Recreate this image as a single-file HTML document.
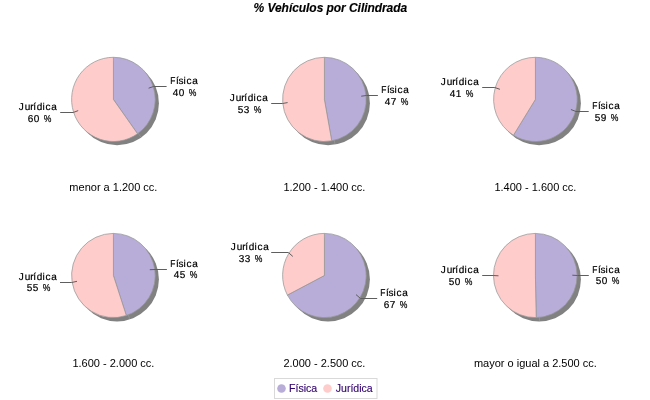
<!DOCTYPE html>
<html><head><meta charset="utf-8"><title>% Vehiculos por Cilindrada</title>
<style>
html,body{margin:0;padding:0;background:#fff;}
body{width:650px;height:400px;overflow:hidden;font-family:"Liberation Sans",sans-serif;}
svg{display:block;will-change:transform;}
text{font-family:"Liberation Sans",sans-serif;fill:#000;}
.t{font-size:12px;font-weight:bold;font-style:italic;stroke:#000;stroke-width:0.15px;}
.l{font-size:10px;text-rendering:geometricPrecision;stroke:#000;stroke-width:0.2px;}
.c{font-size:11px;}
.g{font-size:11px;fill:#34056f;stroke:#34056f;stroke-width:0.15px;}
.k{fill:none;stroke:#5e5e5e;stroke-width:1;}
</style></head><body>
<svg width="650" height="400" viewBox="0 0 650 400">
<rect width="650" height="400" fill="#fff"/>

<text class="t" x="253.6" y="11.8" textLength="153.6" lengthAdjust="spacing">% Vehículos por Cilindrada</text>
<ellipse cx="117.1" cy="103.2" rx="41.8" ry="42.1" fill="#818181"/>
<path d="M113.4,99.4 L113.4,57.3 A41.8,42.1 0 0 1 137.54,133.77 Z" fill="#b7add8" stroke="#979797" stroke-width="0.75"/>
<path d="M113.4,99.4 L137.54,133.77 A41.8,42.1 0 1 1 113.4,57.3 Z" fill="#ffcccc" stroke="#979797" stroke-width="0.75"/>
<line x1="137.9" y1="132.8" x2="140.9" y2="137.1" stroke="#9c9c9c" stroke-width="0.6"/>
<polyline class="k" points="148.6,88.2 153.6,86.5 166.6,86.5"/>
<text class="l" transform="translate(170.31,84) scale(0.839,1)">F</text>
<text class="l" x="176.11 178.54 183.39 186.42 192.34" y="84">ísica</text>
<text class="l" x="172.75 178.72" y="96">40</text>
<text class="l" transform="translate(188.69,96) scale(0.856,1)">%</text>
<polyline class="k" points="78.2,110.6 73.2,112.5 60.2,112.5"/>
<text class="l" x="18.79 24.73 30.29 33.31 36.83 42.39 45.42 51.34" y="110">Jurídica</text>
<text class="l" x="27.69 33.72" y="122">60</text>
<text class="l" transform="translate(43.69,122) scale(0.856,1)">%</text>
<text class="c" text-anchor="middle" x="113.4" y="191">menor a 1.200 cc.</text>
<ellipse cx="328.1" cy="103.2" rx="41.8" ry="42.1" fill="#818181"/>
<path d="M324.4,99.4 L324.4,57.3 A41.8,42.1 0 0 1 331.72,140.85 Z" fill="#b7add8" stroke="#979797" stroke-width="0.75"/>
<path d="M324.4,99.4 L331.72,140.85 A41.8,42.1 0 1 1 324.4,57.3 Z" fill="#ffcccc" stroke="#979797" stroke-width="0.75"/>
<line x1="334.2" y1="139.7" x2="335.0" y2="144.2" stroke="#9c9c9c" stroke-width="0.6"/>
<polyline class="k" points="361.2,96.2 366.4,95.5 377.9,95.5"/>
<text class="l" transform="translate(381.31,93) scale(0.839,1)">F</text>
<text class="l" x="387.11 389.54 394.39 397.42 403.34" y="93">ísica</text>
<text class="l" x="384.75 390.71" y="105">47</text>
<text class="l" transform="translate(400.69,105) scale(0.856,1)">%</text>
<polyline class="k" points="287.6,102.6 282.4,103.5 271.2,103.5"/>
<text class="l" x="229.79 235.73 241.29 244.31 247.83 253.39 256.42 262.34" y="101">Jurídica</text>
<text class="l" x="237.73 243.75" y="113">53</text>
<text class="l" transform="translate(253.69,113) scale(0.856,1)">%</text>
<text class="c" text-anchor="middle" x="324.4" y="191">1.200 - 1.400 cc.</text>
<ellipse cx="539.1" cy="103.2" rx="41.8" ry="42.1" fill="#818181"/>
<path d="M535.4,99.4 L535.4,57.3 A41.8,42.1 0 1 1 513.45,135.23 Z" fill="#b7add8" stroke="#979797" stroke-width="0.75"/>
<path d="M535.4,99.4 L513.45,135.23 A41.8,42.1 0 0 1 535.4,57.3 Z" fill="#ffcccc" stroke="#979797" stroke-width="0.75"/>
<line x1="517.5" y1="137.2" x2="516.7" y2="138.6" stroke="#9c9c9c" stroke-width="0.6"/>
<polyline class="k" points="570.9,109.5 576.0,111.5 588.7,111.5"/>
<text class="l" transform="translate(592.31,109) scale(0.839,1)">F</text>
<text class="l" x="598.11 600.54 605.39 608.42 614.34" y="109">ísica</text>
<text class="l" x="594.73 600.72" y="121">59</text>
<text class="l" transform="translate(610.69,121) scale(0.856,1)">%</text>
<polyline class="k" points="499.9,89.3 494.8,87.5 482.2,87.5"/>
<text class="l" x="440.79 446.73 452.29 455.31 458.83 464.39 467.42 473.34" y="85">Jurídica</text>
<text class="l" x="449.75 455.83" y="97">41</text>
<text class="l" transform="translate(465.69,97) scale(0.856,1)">%</text>
<text class="c" text-anchor="middle" x="535.4" y="191">1.400 - 1.600 cc.</text>
<ellipse cx="117.1" cy="279.3" rx="41.8" ry="42.1" fill="#818181"/>
<path d="M113.4,275.5 L113.4,233.4 A41.8,42.1 0 0 1 126.32,315.54 Z" fill="#b7add8" stroke="#979797" stroke-width="0.75"/>
<path d="M113.4,275.5 L126.32,315.54 A41.8,42.1 0 1 1 113.4,233.4 Z" fill="#ffcccc" stroke="#979797" stroke-width="0.75"/>
<line x1="128.2" y1="314.3" x2="129.6" y2="318.8" stroke="#9c9c9c" stroke-width="0.6"/>
<polyline class="k" points="149.8,269.7 155.1,269.5 166.9,269.5"/>
<text class="l" transform="translate(170.31,267) scale(0.839,1)">F</text>
<text class="l" x="176.11 178.54 183.39 186.42 192.34" y="267">ísica</text>
<text class="l" x="173.75 179.73" y="278">45</text>
<text class="l" transform="translate(189.69,278) scale(0.856,1)">%</text>
<polyline class="k" points="77.0,281.3 71.7,282.5 60.0,282.5"/>
<text class="l" x="18.79 24.73 30.29 33.31 36.83 42.39 45.42 51.34" y="280">Jurídica</text>
<text class="l" x="26.73 32.73" y="291">55</text>
<text class="l" transform="translate(42.69,291) scale(0.856,1)">%</text>
<text class="c" text-anchor="middle" x="113.4" y="367">1.600 - 2.000 cc.</text>
<ellipse cx="328.1" cy="279.3" rx="41.8" ry="42.1" fill="#818181"/>
<path d="M324.4,275.5 L324.4,233.4 A41.8,42.1 0 1 1 287.40,295.08 Z" fill="#b7add8" stroke="#979797" stroke-width="0.75"/>
<path d="M324.4,275.5 L287.40,295.08 A41.8,42.1 0 0 1 324.4,233.4 Z" fill="#ffcccc" stroke="#979797" stroke-width="0.75"/>
<polyline class="k" points="356.0,294.6 360.5,298.5 377.2,298.5"/>
<text class="l" transform="translate(380.31,296) scale(0.839,1)">F</text>
<text class="l" x="386.11 388.54 393.39 396.42 402.34" y="296">ísica</text>
<text class="l" x="383.69 389.71" y="308">67</text>
<text class="l" transform="translate(399.69,308) scale(0.856,1)">%</text>
<polyline class="k" points="292.8,256.4 288.3,252.5 271.2,252.5"/>
<text class="l" x="230.79 236.73 242.29 245.31 248.83 254.39 257.42 263.34" y="250">Jurídica</text>
<text class="l" x="238.75 244.75" y="262">33</text>
<text class="l" transform="translate(254.69,262) scale(0.856,1)">%</text>
<text class="c" text-anchor="middle" x="324.4" y="367">2.000 - 2.500 cc.</text>
<ellipse cx="539.1" cy="279.3" rx="41.8" ry="42.1" fill="#818181"/>
<path d="M535.4,275.5 L535.4,233.4 A41.8,42.1 0 0 1 536.19,317.59 Z" fill="#b7add8" stroke="#979797" stroke-width="0.75"/>
<path d="M535.4,275.5 L536.19,317.59 A41.8,42.1 0 1 1 535.4,233.4 Z" fill="#ffcccc" stroke="#979797" stroke-width="0.75"/>
<line x1="539.4" y1="316.9" x2="539.5" y2="320.9" stroke="#9c9c9c" stroke-width="0.6"/>
<polyline class="k" points="572.3,275.2 577.6,275.5 588.8,275.5"/>
<text class="l" transform="translate(592.31,273) scale(0.839,1)">F</text>
<text class="l" x="598.11 600.54 605.39 608.42 614.34" y="273">ísica</text>
<text class="l" x="595.73 601.72" y="284">50</text>
<text class="l" transform="translate(611.69,284) scale(0.856,1)">%</text>
<polyline class="k" points="498.5,275.8 493.2,275.5 482.2,275.5"/>
<text class="l" x="440.79 446.73 452.29 455.31 458.83 464.39 467.42 473.34" y="273">Jurídica</text>
<text class="l" x="448.73 454.72" y="285">50</text>
<text class="l" transform="translate(464.69,285) scale(0.856,1)">%</text>
<text class="c" text-anchor="middle" x="535.4" y="367">mayor o igual a 2.500 cc.</text>
<rect x="274.5" y="378.5" width="102.5" height="20" fill="#fff" stroke="#d9d9d9" stroke-width="1"/>
<circle cx="281.5" cy="388.5" r="4.3" fill="#b7add8"/>
<text class="g" x="289.0" y="392" textLength="28.2" lengthAdjust="spacingAndGlyphs">Física</text>
<circle cx="327.5" cy="388.5" r="4.3" fill="#ffcccc"/>
<text class="g" x="335.8" y="392" textLength="36.8" lengthAdjust="spacingAndGlyphs">Jurídica</text>
</svg></body></html>
